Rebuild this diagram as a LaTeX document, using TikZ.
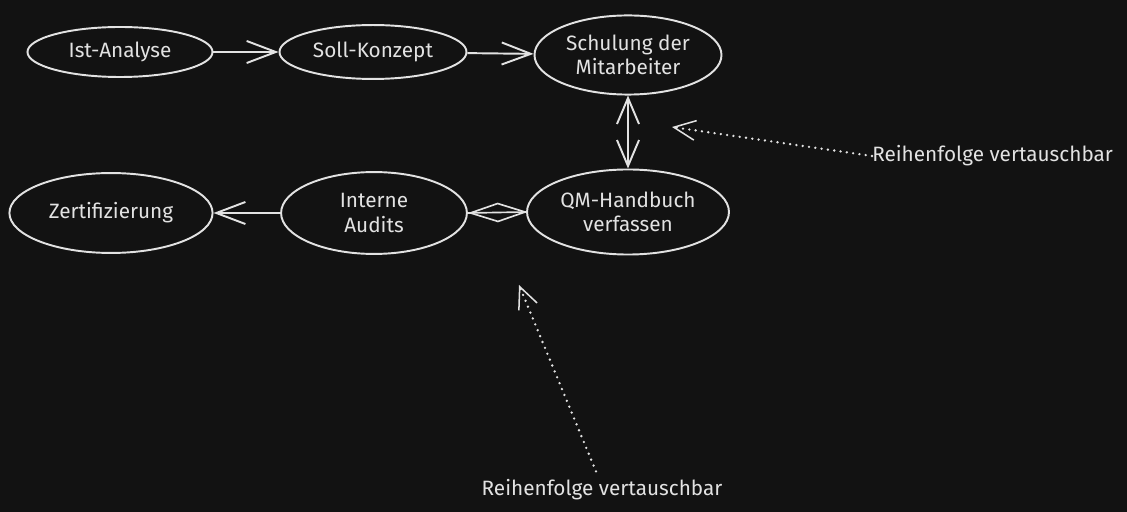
\documentclass[tikz,border=0pt]{standalone}
\usepackage{fontspec}
\setmainfont{Fira Sans}
\usepackage{tikz}
\usetikzlibrary{arrows.meta, calc}
\usetikzlibrary{shapes.geometric}
\definecolor{mybg}{RGB}{18, 18, 18}
\definecolor{mychalk}{RGB}{226, 226, 226}
\tikzstyle{phase} = [ellipse, draw=mychalk, line width=1.4pt, inner sep=0,
    text=mychalk, font=\fontsize{15}{17.5}\selectfont, align=center]
\tikzstyle{note} = [inner sep=0, text=mychalk,
    font=\fontsize{15}{17.5}\selectfont]
\tikzstyle{flow} = [draw=mychalk, line width=1.4pt,
    -{Straight Barb[length=7.4mm, width=5.6mm, line width=1.4pt]}]
\tikzstyle{hint} = [draw=mychalk, line width=1.9pt, line cap=round,
    dash pattern=on 0pt off 4.6pt,
    -{Straight Barb[length=5.5mm, width=5mm, line width=1.1pt]}]

\begin{document}
\begin{tikzpicture}[x=0.254mm, y=-0.254mm]

    % 1. Background
    \fill[mybg] (0,0) rectangle (1127,512);
    \useasboundingbox (0,0) rectangle (1127,512);

%%% TOP ROW
\node[phase, minimum width=47mm, minimum height=12.7mm] (ist) at (120,52) {Ist-Analyse};
\node[phase, minimum width=47.5mm, minimum height=13.7mm] (soll) at (373,52) {Soll-Konzept};
\node[phase, minimum width=47.5mm, minimum height=20.1mm] (schulung) at (628,55) {Schulung der\\Mitarbeiter};

%%% BOTTOM ROW
\node[phase, minimum width=51.3mm, minimum height=21.6mm] (qm) at (628,212) {QM-Handbuch\\verfassen};
\node[phase, minimum width=47.2mm, minimum height=20.8mm] (audits) at (374,213) {Interne\\Audits};
\node[phase, minimum width=51.6mm, minimum height=20.3mm] (zert) at (111,213) {Zertifizierung};

% Arrows between the phases
\draw[flow] (ist) -- (soll);
\draw[flow] (soll) -- (schulung);
\draw[flow, {Straight Barb[length=6.6mm, width=5.6mm, line width=1.4pt]}-{Straight Barb[length=6.6mm, width=5.6mm, line width=1.4pt]}] (schulung) -- (qm);
\draw[draw=mychalk, line width=1.2pt] (qm.west) -- (audits.east);
\draw[draw=mychalk, line width=1.2pt, -{Diamond[open, length=15.2mm, width=5mm, line width=1.2pt]}] (qm.west) -- (audits.east);
\draw[flow] (audits) -- (zert);

%%% NOTES
% Note on the right
\node[note, anchor=west] (noteright) at (872,156) {Reihenfolge vertauschbar};
\coordinate (tipright) at (672,127);
\draw[hint] (noteright.west) -- (tipright);

% Note at the bottom
\node[note] (notebottom) at (602,490) {Reihenfolge vertauschbar};
\coordinate (tipbottom) at (519,285);
\draw[hint] ($(notebottom.north)+(-6,-8)$) -- (tipbottom);

\end{tikzpicture}
\end{document}
